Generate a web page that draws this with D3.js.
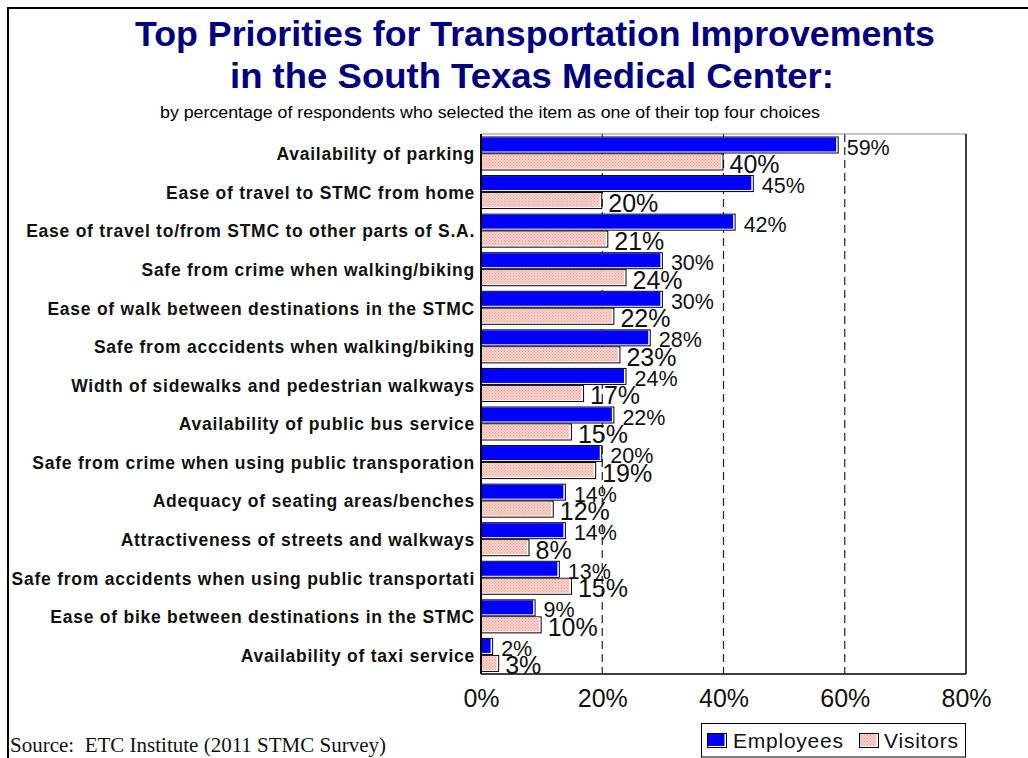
<!DOCTYPE html>
<html>
<head>
<meta charset="utf-8">
<script src="https://cdn.jsdelivr.net/npm/d3@7"></script>
<style>
  body { margin: 0; background: #fff; }
  svg { display: block; }
</style>
</head>
<body>
<svg id="chart"></svg>
<script>
const categories = [
  "Availability of parking",
  "Ease of travel to STMC from home",
  "Ease of travel to/from STMC to other parts of S.A.",
  "Safe from crime when walking/biking",
  "Ease of walk between destinations in the STMC",
  "Safe from acccidents when walking/biking",
  "Width of sidewalks and pedestrian walkways",
  "Availability of public bus service",
  "Safe from crime when using public transporation",
  "Adequacy of seating areas/benches",
  "Attractiveness of streets and walkways",
  "Safe from accidents when using public transportati",
  "Ease of bike between destinations in the STMC",
  "Availability of taxi service"
];
const employees = [59, 45, 42, 30, 30, 28, 24, 22, 20, 14, 14, 13, 9, 2];
const visitors = [40, 20, 21, 24, 22, 23, 17, 15, 19, 12, 8, 15, 10, 3];
const seriesNames = ["Employees", "Visitors"];
const xTicks = [0, 20, 40, 60, 80];

const W = 1028, H = 758;
const margin = { top: 134, right: 62, bottom: 84, left: 481 };
const SANS = "Liberation Sans, Arial, sans-serif";

const svg = d3.select("#chart").attr("width", W).attr("height", H);

// pattern for visitors bars
const defs = svg.append("defs");
const pat = defs.append("pattern")
  .attr("id", "pinkPat")
  .attr("width", 3).attr("height", 3)
  .attr("patternUnits", "userSpaceOnUse");
pat.append("rect").attr("width", 3).attr("height", 3).attr("fill", "#f7cdc6");
pat.append("rect").attr("x", 0).attr("y", 0).attr("width", 1).attr("height", 1).attr("fill", "#e3a9a0");
pat.append("rect").attr("x", 1.5).attr("y", 1.5).attr("width", 1).attr("height", 1).attr("fill", "#eab6ae");

// outer frame (left + top)
svg.append("line").attr("x1", 8).attr("x2", 8).attr("y1", 7).attr("y2", H)
  .attr("stroke", "#000").attr("stroke-width", 2);
svg.append("line").attr("x1", 7).attr("x2", W).attr("y1", 8).attr("y2", 8)
  .attr("stroke", "#000").attr("stroke-width", 2);

// titles
svg.append("text").attr("x", 535).attr("y", 46)
  .attr("text-anchor", "middle")
  .attr("font-family", SANS)
  .attr("font-weight", "bold").attr("font-size", 35)
  .attr("fill", "#000080")
  .attr("textLength", 800).attr("lengthAdjust", "spacingAndGlyphs")
  .text("Top Priorities for Transportation Improvements");
svg.append("text").attr("x", 532).attr("y", 88)
  .attr("text-anchor", "middle")
  .attr("font-family", SANS)
  .attr("font-weight", "bold").attr("font-size", 35)
  .attr("fill", "#000080")
  .attr("textLength", 604).attr("lengthAdjust", "spacingAndGlyphs")
  .text("in the South Texas Medical Center:");
svg.append("text").attr("x", 490).attr("y", 118)
  .attr("text-anchor", "middle")
  .attr("font-family", SANS)
  .attr("font-size", 16)
  .attr("fill", "#000")
  .attr("textLength", 660).attr("lengthAdjust", "spacingAndGlyphs")
  .text("by percentage of respondents who selected the item as one of their top four choices");

const x = d3.scaleLinear().domain([0, 80]).range([margin.left, W - margin.right]);
const y = d3.scaleBand().domain(categories).range([margin.top, H - margin.bottom]);
const ySub = d3.scaleBand().domain(seriesNames).range([2.5, 36.5]);

const plotTop = margin.top, plotBottom = H - margin.bottom;

// grid
svg.append("g").selectAll("line")
  .data(xTicks.filter(d => d > 0 && d < 80))
  .join("line")
  .attr("x1", d => x(d)).attr("x2", d => x(d))
  .attr("y1", plotTop).attr("y2", plotBottom)
  .attr("stroke", "#222").attr("stroke-width", 1.2)
  .attr("stroke-dasharray", "8,5");

// plot border
svg.append("line").attr("x1", x(0)).attr("x2", x(80)).attr("y1", plotTop).attr("y2", plotTop)
  .attr("stroke", "#888").attr("stroke-width", 1);
svg.append("line").attr("x1", x(80)).attr("x2", x(80)).attr("y1", plotTop).attr("y2", plotBottom)
  .attr("stroke", "#000").attr("stroke-width", 1.5);
svg.append("line").attr("x1", x(0)).attr("x2", x(80)).attr("y1", plotBottom).attr("y2", plotBottom)
  .attr("stroke", "#000").attr("stroke-width", 1.5);

const rows = categories.map((c, i) => ({ c, emp: employees[i], vis: visitors[i] }));

function drawBar(g, x0, x1, yTop, h, fill) {
  g.append("rect").attr("x", x0).attr("y", yTop).attr("width", x1 - x0).attr("height", h)
    .attr("fill", "#000");
  g.append("rect").attr("x", x0).attr("y", yTop + 1).attr("width", Math.max(0, x1 - x0 - 1)).attr("height", h - 2)
    .attr("fill", "#fff");
  g.append("rect").attr("x", x0).attr("y", yTop + 1).attr("width", Math.max(0, x1 - x0 - 2.5)).attr("height", h - 3)
    .attr("fill", fill);
}

const barG = svg.append("g");
rows.forEach(r => {
  const base = y(r.c);
  const h = ySub.bandwidth();
  drawBar(barG, x(0), x(r.emp), base + ySub("Employees"), h, "#0000ff");
  drawBar(barG, x(0), x(r.vis), base + ySub("Visitors"), h, "url(#pinkPat)");
});

// value labels
rows.forEach(r => {
  const base = y(r.c);
  const h = ySub.bandwidth();
  svg.append("text")
    .attr("x", x(r.emp) + 8).attr("y", base + ySub("Employees") + h + 1)
    .attr("font-family", SANS)
    .attr("font-size", 21.5).attr("fill", "#111")
    .text(r.emp + "%");
  svg.append("text")
    .attr("x", x(r.vis) + 6).attr("y", base + ySub("Visitors") + h + 2.5)
    .attr("font-family", SANS)
    .attr("font-size", 25).attr("fill", "#111")
    .text(r.vis + "%");
});

// category labels
svg.append("g").selectAll("text")
  .data(categories)
  .join("text")
  .attr("x", 475)
  .attr("y", d => y(d) + y.bandwidth() / 2 + 7)
  .attr("text-anchor", "end")
  .attr("font-family", SANS)
  .attr("font-weight", "bold").attr("font-size", 17.5)
  .attr("letter-spacing", 0.75)
  .attr("fill", "#111")
  .text(d => d);

// left axis line
svg.append("line").attr("x1", x(0)).attr("x2", x(0)).attr("y1", plotTop).attr("y2", plotBottom)
  .attr("stroke", "#000").attr("stroke-width", 2);

// x axis tick labels
const xAxis = d3.axisBottom(x).tickValues(xTicks).tickSize(0).tickPadding(0)
  .tickFormat(d => d + "%");
const axG = svg.append("g").attr("transform", `translate(0,${plotBottom})`).call(xAxis);
axG.select(".domain").remove();
axG.selectAll("text")
  .attr("dy", null).attr("y", 33)
  .attr("font-family", SANS)
  .attr("font-size", 25).attr("fill", "#111");

// legend
const lg = svg.append("g");
lg.append("rect").attr("x", 701.5).attr("y", 723.5).attr("width", 264).attr("height", 33.5)
  .attr("fill", "#fff").attr("stroke", "#000").attr("stroke-width", 1);
const legendItems = [
  { name: "Employees", fill: "#0000ff", sx: 707, tx: 733, w: 110 },
  { name: "Visitors", fill: "url(#pinkPat)", sx: 859, tx: 884, w: 74 }
];
legendItems.forEach(d => {
  drawBar(lg, d.sx, d.sx + 20, 733, 15, d.fill);
  lg.append("rect").attr("x", d.sx).attr("y", 733).attr("width", 1).attr("height", 15).attr("fill", "#000");
  lg.append("text").attr("x", d.tx).attr("y", 748)
    .attr("font-family", SANS)
    .attr("font-size", 21).attr("fill", "#111")
    .attr("textLength", d.w).attr("lengthAdjust", "spacing")
    .text(d.name);
});

// source
svg.append("text").attr("x", 10).attr("y", 752)
  .attr("font-family", "Liberation Serif, Times New Roman, serif")
  .attr("font-size", 21).attr("fill", "#111")
  .attr("xml:space", "preserve")
  .text("Source:  ETC Institute (2011 STMC Survey)");
</script>
</body>
</html>
